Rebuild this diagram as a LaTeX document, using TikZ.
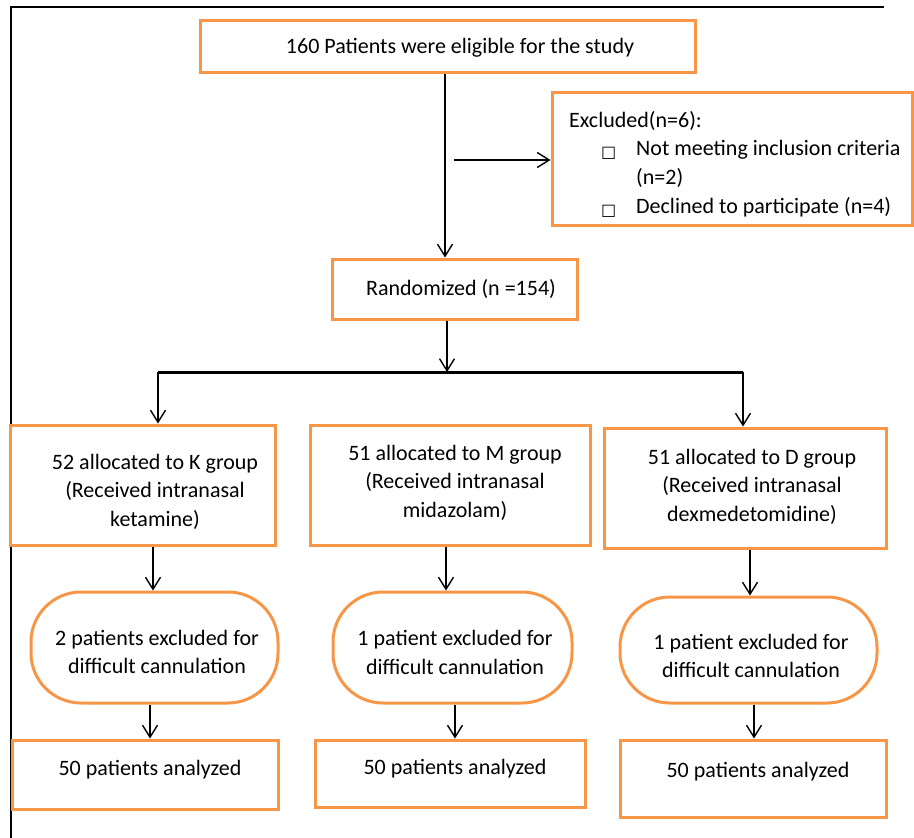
\documentclass[tikz,border=0pt]{standalone}
\usepackage{fontspec}
\setmainfont{Carlito}
\newfontfamily\symfont{DejaVu Sans}
\usetikzlibrary{arrows.meta,calc}
\definecolor{orng}{RGB}{247,150,70}
\begin{document}
\begin{tikzpicture}[x=1pt,y=-1pt,
 box/.style={draw=orng,line width=3pt,inner sep=0pt},
 rbox/.style={box,rounded corners=50pt},
 txt/.style={inner sep=0pt,font=\fontsize{22}{28.5}\selectfont,align=center},
 ltxt/.style={inner sep=0pt,font=\fontsize{22}{28.5}\selectfont,anchor=base west},
 bul/.style={inner sep=0pt,font=\symfont\fontsize{16}{18}\selectfont,anchor=base west},
 arr/.style={line width=1.4pt,-{Straight Barb[length=12pt,width=15pt,line width=1.4pt]}},
 frm/.style={line width=2.2pt},
]
\useasboundingbox (0,0) rectangle (914,838);
% frame
\draw[frm] (11,838) -- (11,7) -- (884,7);
% boxes
\node[box,minimum width=495pt,minimum height=52pt] (top) at (447.5,46) {};
\node[box,minimum width=360pt,minimum height=133pt] (excl) at (732,158.5) {};
\node[box,minimum width=245pt,minimum height=60pt] (rand) at (454.5,289) {};
\node[box,minimum width=265pt,minimum height=120pt] (kb) at (142.5,485) {};
\node[box,minimum width=280pt,minimum height=120pt] (mb) at (450,485) {};
\node[box,minimum width=282pt,minimum height=120pt] (db) at (745,488) {};
\node[rbox,minimum width=247pt,minimum height=111pt] (kr) at (154.5,647.5) {};
\node[rbox,minimum width=239pt,minimum height=111pt] (mr) at (452.5,647.5) {};
\node[rbox,minimum width=257pt,minimum height=106pt] (dr) at (748.5,650) {};
\node[box,minimum width=266pt,minimum height=69pt] (ka) at (145,774.5) {};
\node[box,minimum width=270pt,minimum height=67pt] (ma) at (450,773.5) {};
\node[box,minimum width=266pt,minimum height=77pt] (da) at (753,778.5) {};
% texts
\node[txt] (ttop) at (460,48) {160 Patients were eligible for the study};
\node[ltxt] (te0) at (569,127) {Excluded(n=6):};
\node[bul] (b1) at (601,157) {□};
\node[ltxt] (te1) at (636,155) {Not meeting inclusion criteria};
\node[ltxt] (te2) at (636,184) {(n=2)};
\node[bul] (b2) at (601,215) {□};
\node[ltxt] (te3) at (636,213) {Declined to participate (n=4)};
\node[txt] (trand) at (461,289) {Randomized (n =154)};
\node[txt] (tk) at (155,491.5) {52 allocated to K group\\(Received intranasal\\ketamine)};
\node[txt] (tm) at (455,482.5) {51 allocated to M group\\(Received intranasal\\midazolam)};
\node[txt] (td) at (752,486.5) {51 allocated to D group\\(Received intranasal\\dexmedetomidine)};
\node[txt] (tkr) at (157,652) {2 patients excluded for\\difficult cannulation};
\node[txt] (tmr) at (455,652.5) {1 patient excluded for\\difficult cannulation};
\node[txt] (tdr) at (751,656) {1 patient excluded for\\difficult cannulation};
\node[txt] (tka) at (150,770) {50 patients analyzed};
\node[txt] (tma) at (455,769) {50 patients analyzed};
\node[txt] (tda) at (758,772) {50 patients analyzed};
% connectors
\coordinate (side) at (454,160);
\coordinate (bl) at (158,372);
\coordinate (bm) at (447,372);
\coordinate (br) at (743,372);
\draw[arr] (445,0 |- top.south) -- (445,0 |- rand.north);
\draw[arr] (side) -- (side -| excl.west);
\draw[arr] (447,0 |- rand.south) -- (bm);
\draw[line width=3pt] (bl) -- (br);
\draw[arr] (bl) -- (bl |- kb.north);
\draw[arr] (br) -- (br |- db.north);
\draw[arr] (153,0 |- kb.south) -- (153,0 |- kr.north);
\draw[arr] (150,0 |- kr.south) -- (150,0 |- ka.north);
\draw[arr] (446,0 |- mb.south) -- (446,0 |- mr.north);
\draw[arr] (455,0 |- mr.south) -- (455,0 |- ma.north);
\draw[arr] (750,0 |- db.south) -- (750,0 |- dr.north);
\draw[arr] (754,0 |- dr.south) -- (754,0 |- da.north);
\end{tikzpicture}
\end{document}
